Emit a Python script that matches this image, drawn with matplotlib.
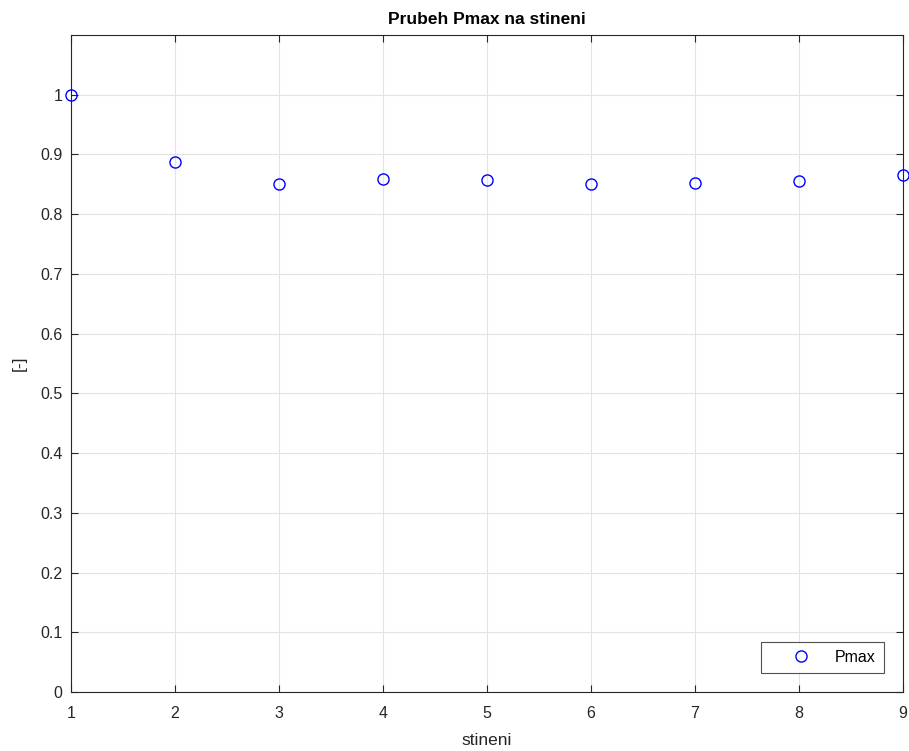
import matplotlib
matplotlib.use("Agg")
import matplotlib.pyplot as plt

x = [1, 2, 3, 4, 5, 6, 7, 8, 9]
pmax = [1.0, 0.888, 0.851, 0.859, 0.857, 0.851, 0.853, 0.855, 0.866]
yticks = [0, 0.1, 0.2, 0.3, 0.4, 0.5, 0.6, 0.7, 0.8, 0.9, 1]
ytick_labels = ["0", "0.1", "0.2", "0.3", "0.4", "0.5", "0.6", "0.7", "0.8", "0.9", "1"]

plt.rcParams['font.family'] = ['Liberation Sans', 'DejaVu Sans']

fig = plt.figure(figsize=(9.09, 7.51), dpi=100)
ax = fig.add_axes([0.0781, 0.0786, 0.9153, 0.8748])
ax.plot(x, pmax, 'o', markerfacecolor='none', markeredgecolor='#0000ff',
        markersize=8, markeredgewidth=1.0, label='Pmax', clip_on=False, zorder=3)
ax.set_xlim(1, 9)
ax.set_ylim(0, 1.1)
ax.set_xticks(x)
ax.set_yticks(yticks)
ax.set_yticklabels(ytick_labels)
ax.grid(True, color='#e3e3e3', linewidth=0.8)
ax.set_axisbelow(True)
ax.tick_params(direction='in', length=5, labelsize=11.5, colors='#262626',
               top=True, right=True)
ax.tick_params(axis='x', pad=10)
ax.tick_params(axis='y', pad=6)
for s in ax.spines.values():
    s.set_color('#262626')
    s.set_linewidth(0.8)
ax.set_xlabel('stineni', fontsize=12.5, color='#262626', labelpad=9)
ax.set_ylabel('[-]', fontsize=12.5, color='#262626', labelpad=10)
ax.set_title('Prubeh Pmax na stineni', fontsize=12.5, fontweight='bold', pad=8)
leg = ax.legend(loc='lower right', fontsize=11.5, frameon=True, fancybox=False,
                edgecolor='#262626', markerfirst=True, borderaxespad=1.2,
                handlelength=4.0, handletextpad=0.15, borderpad=0.5)
leg.get_frame().set_linewidth(0.8)
fig.savefig('out.png', dpi=100)
